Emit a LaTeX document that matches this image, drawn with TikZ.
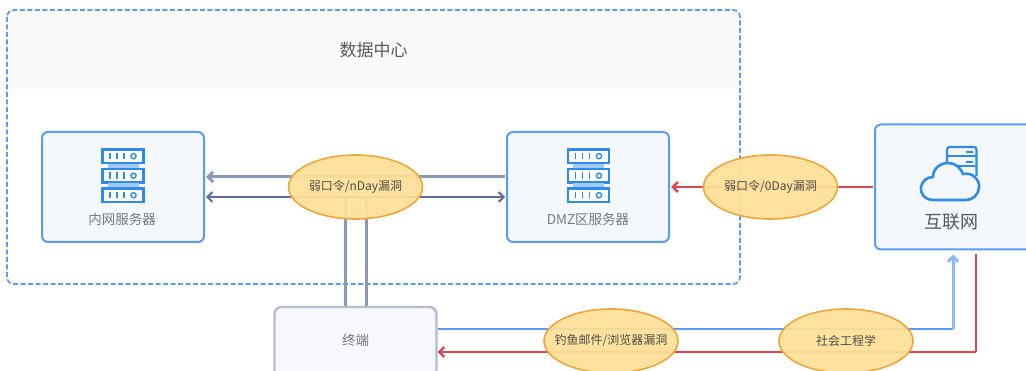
\documentclass[tikz,border=0pt]{standalone}
\usepackage{fontspec}
\setmainfont{Noto Sans CJK SC}
\usetikzlibrary{arrows.meta,shapes.geometric}
\definecolor{boxblue}{HTML}{5A9CF0}
\definecolor{boxfill}{HTML}{F4F8FD}
\definecolor{termline}{HTML}{B4BBD2}
\definecolor{termfill}{HTML}{F7F8FB}
\definecolor{slateline}{HTML}{8C98BA}
\definecolor{slatedark}{HTML}{5F6E9E}
\definecolor{attackred}{HTML}{DC4650}
\definecolor{iconblue}{HTML}{2F8AEE}
\definecolor{ovalfill}{HTML}{FFE096}
\definecolor{ovalline}{HTML}{EFA63C}
\definecolor{labelgray}{HTML}{777777}
\begin{document}
\begin{tikzpicture}[x=1pt,y=-1pt,
                    tip/.style={-{Straight Barb[length=5pt,width=10pt]}},
                    hostbox/.style={draw=boxblue,fill=boxfill,line width=2pt,rounded corners=6pt,outer sep=2pt},
                    termbox/.style={draw=termline,fill=termfill,line width=2.4pt,rounded corners=7pt,outer sep=1pt},
                    oval/.style={draw=ovalline,fill=ovalfill,fill opacity=.92,text opacity=1,line width=1.6pt,shape=ellipse,
                      minimum width=134pt,minimum height=64pt,inner xsep=-30pt,inner ysep=0pt,font=\fontsize{12}{14}\selectfont,text=black!70},
                    caption/.style={text=labelgray,inner sep=0pt,font=\fontsize{13.5}{16}\selectfont},
                    servericon/.pic={
                      \foreach \r in {0,19.5,39} {
                        \draw[iconblue,line width=2.2pt,fill=white] (-20.5,\r-26) rectangle (20.5,\r-12.5);
                        \foreach \t in {-13,-6,1} \draw[iconblue,line width=1.6pt] (\t,\r-22.5) -- (\t,\r-16);
                        \draw[iconblue,line width=1.4pt] (10.5,\r-19.3) circle (2.6);
                      }
                      \fill[iconblue!45] (-15.5,-11.5) rectangle (15.5,-7.5);
                      \fill[iconblue!45] (-15.5,8) rectangle (15.5,12);
                    }]
                  \useasboundingbox (0,0) rectangle (1026,371);
                  \fill[black!2] (7,89) [rounded corners=7pt] -- (7,10) -- (740,10) [sharp corners] -- (740,89) -- cycle;
                  \draw[boxblue,line width=1.8pt,dash pattern=on 5pt off 2.5pt,rounded corners=7pt] (7,10) rectangle (740,284);
                  \node[text=black!65,inner sep=0pt,font=\fontsize{17}{20}\selectfont] (dc) at (373.5,50) {数据中心};
                  \node[hostbox,minimum width=162pt,minimum height=110pt] (lan) at (123,187) {};
                  \node[hostbox,minimum width=162pt,minimum height=110pt] (dmz) at (588,187) {};
                  \node[hostbox,minimum width=158pt,minimum height=125pt] (net) at (954,187) {};
                  \node[termbox,minimum width=162pt,minimum height=84pt] (term) at (355.5,349) {};
                  \node[caption] (lantext) at (122,219) {内网服务器};
                  \node[caption] (dmztext) at (588,219) {DMZ区服务器};
                  \node[text=black!65,inner sep=0pt,font=\fontsize{18}{21}\selectfont] (nettext) at (951,221.5) {互联网};
                  \node[caption] (termtext) at (355.5,340) {终端};
                  \pic at (123,175.5) {servericon};
                  \pic at (588.5,175.5) {servericon};
                  \draw[iconblue,line width=2.2pt,rounded corners=2.5pt] (947,162) -- (947,147) -- (976.5,147) -- (976.5,176);
                  \draw[iconblue,line width=1.6pt] (947,156) -- (976,156);
                  \draw[iconblue,line width=1.6pt] (947,166) -- (976,166);
                  \fill[iconblue] (966,151) rectangle (973,153);
                  \fill[iconblue] (966,161) rectangle (973,163);
                  \draw[iconblue,line width=2.6pt,fill=boxfill] (934,200) .. controls (924,200) and (920,193) .. (921,187)
                    .. controls (922,181) and (927,177) .. (933,177) .. controls (933,168) and (941,163) .. (948,163)
                    .. controls (955,163) and (960,167) .. (963,174) .. controls (973,172) and (980,180) .. (979,188)
                    .. controls (978,195) and (973,200) .. (966,200) -- cycle;
                  \coordinate (lanhigh) at ([yshift=10pt]lan.east);
                  \coordinate (lanlow) at ([yshift=-10pt]lan.east);
                  \coordinate (dmzhigh) at ([yshift=10pt]dmz.west);
                  \coordinate (dmzlow) at ([yshift=-10pt]dmz.west);
                  \coordinate (joinl) at (345,197);
                  \coordinate (joinr) at (366,197);
                  \coordinate (bendup) at (953,329);
                  \coordinate (benddown) at (976,352);
                  \draw[slateline,line width=3pt] (joinl) -- (joinl |- term.north);
                  \draw[slateline,line width=3pt] (joinr) -- (joinr |- term.north);
                  \draw[slateline,line width=3pt,tip] (dmzhigh) -- (lanhigh);
                  \draw[slatedark,line width=2pt,tip] (joinl) -- (lanlow);
                  \draw[slatedark,line width=2pt,tip] (joinr) -- (dmzlow);
                  \draw[slatedark,line width=2pt] (joinl) -- (joinr);
                  \draw[attackred,line width=2.6pt,tip] (net.west) -- (dmz.east);
                  \draw[boxblue,line width=2.4pt] (term.east |- bendup) -- (bendup);
                  \draw[boxblue!70,line width=3pt,tip] (bendup) -- ([yshift=-3pt]bendup |- net.south);
                  \draw[attackred,line width=2.4pt] ([yshift=-3pt]benddown |- net.south) -- (benddown);
                  \draw[attackred,line width=2.4pt,tip] (benddown) -- (term.east |- benddown);
                  \node[oval] (weaklan) at (355.5,187) {弱口令/nDay漏洞};
                  \node[oval] (weakdmz) at (770.5,187) {弱口令/0Day漏洞};
                  \node[oval] (phish) at (611,341) {钓鱼邮件/浏览器漏洞};
                  \node[oval] (social) at (846,341) {社会工程学};
              \end{tikzpicture}
\end{document}
